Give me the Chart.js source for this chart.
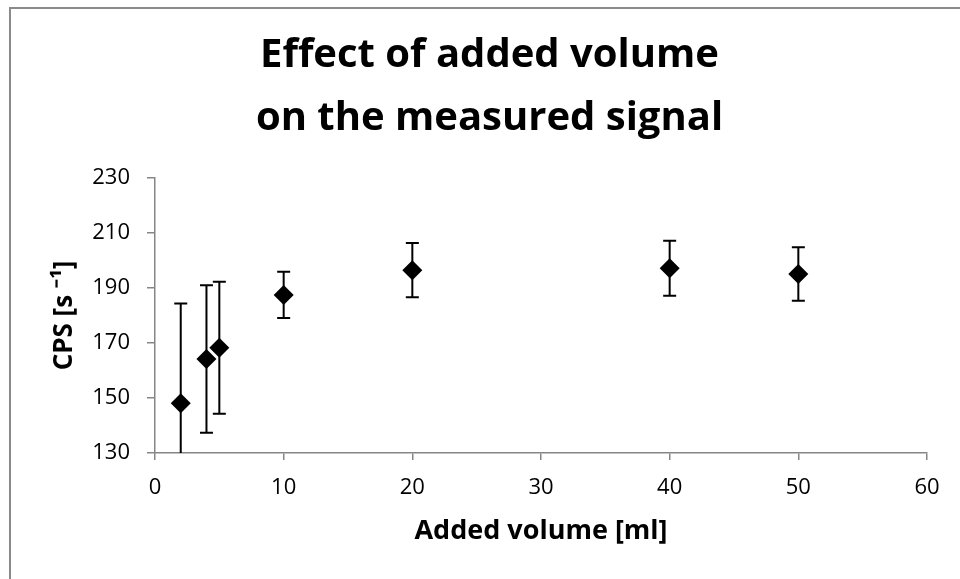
<!DOCTYPE html>
<html lang="en">
<head>
    <meta charset="UTF-8">
    <title>Effect of added volume on the measured signal</title>
    <script src="https://cdn.jsdelivr.net/npm/chart.js@4.4.0/dist/chart.umd.min.js"></script>
    <style>
        body { margin: 0; background: #fff; }
        canvas { display: block; }
    </style>
</head>
<body>
    <canvas id="chart" width="960" height="579"></canvas>

    <script>
        // data
        const volumes = [2, 4, 5, 10, 20, 40, 50];
        const cps = [148.1, 164.2, 168.3, 187.5, 196.5, 197.2, 195.1];
        const cpsError = [36.3, 26.8, 24.0, 8.4, 9.9, 10.0, 9.75];
        const xTicks = [0, 10, 20, 30, 40, 50, 60];
        const yTicks = [130, 150, 170, 190, 210, 230];

        const axisColor = '#868686';
        const fontFamily = '"Open Sans", sans-serif';

        // gray frame on the top and left edge
        const framePlugin = {
            id: 'frame',
            beforeDraw(chart) {
                const ctx = chart.ctx;
                ctx.save();
                ctx.fillStyle = '#8a8a8a';
                ctx.fillRect(9, 7, chart.width - 9, 2);
                ctx.fillRect(9, 7, 2, chart.height - 7);
                ctx.restore();
            }
        };

        // vertical error bars with caps, drawn through the scales
        const errorBarPlugin = {
            id: 'errorBars',
            afterDatasetsDraw(chart) {
                const ctx = chart.ctx;
                const x = chart.scales.x;
                const y = chart.scales.y;
                const area = chart.chartArea;
                ctx.save();
                ctx.beginPath();
                ctx.rect(area.left, area.top - 2, area.right - area.left, area.bottom - area.top + 2);
                ctx.clip();
                ctx.strokeStyle = '#000';
                ctx.lineWidth = 2;
                const cap = 6.5;
                volumes.forEach((v, i) => {
                    const px = x.getPixelForValue(v);
                    const top = y.getPixelForValue(cps[i] + cpsError[i]);
                    const bottom = y.getPixelForValue(cps[i] - cpsError[i]);
                    ctx.beginPath();
                    ctx.moveTo(px, top);
                    ctx.lineTo(px, bottom);
                    ctx.moveTo(px - cap, top);
                    ctx.lineTo(px + cap, top);
                    ctx.moveTo(px - cap, bottom);
                    ctx.lineTo(px + cap, bottom);
                    ctx.stroke();
                });
                ctx.restore();
            }
        };

        new Chart(document.getElementById('chart'), {
            type: 'scatter',
            data: {
                datasets: [{
                    label: 'CPS',
                    data: volumes.map((v, i) => ({ x: v, y: cps[i] })),
                    pointStyle: 'rectRot',
                    pointRadius: 10,
                    pointBackgroundColor: '#000',
                    pointBorderColor: '#000',
                    pointBorderWidth: 0
                }]
            },
            options: {
                responsive: false,
                animation: false,
                layout: { padding: { top: 0, left: 52, right: 33, bottom: 0 } },
                plugins: {
                    legend: { display: false },
                    tooltip: { enabled: false },
                    title: {
                        display: true,
                        text: ['Effect of added volume', 'on the measured signal'],
                        color: '#000',
                        font: { family: fontFamily, size: 40, weight: 'bold', lineHeight: 1.575 },
                        padding: { top: 24.5, bottom: 27.5 }
                    }
                },
                scales: {
                    x: {
                        type: 'linear',
                        min: 0,
                        max: 60,
                        afterBuildTicks: s => { s.ticks = xTicks.map(v => ({ value: v })); },
                        afterFit: s => { s.height = 126; },
                        grid: { drawOnChartArea: false, drawTicks: true, tickLength: 7, color: axisColor, lineWidth: 1.5 },
                        border: { display: true, color: axisColor, width: 1.5 },
                        ticks: { color: '#000', padding: 14.8, font: { family: fontFamily, size: 22 } },
                        title: {
                            display: true,
                            text: 'Added volume [ml]',
                            color: '#000',
                            font: { family: fontFamily, size: 27, weight: 'bold' },
                            padding: { top: 0, bottom: 31.8 }
                        }
                    },
                    y: {
                        type: 'linear',
                        min: 130,
                        max: 230,
                        afterBuildTicks: s => { s.ticks = yTicks.map(v => ({ value: v })); },
                        afterFit: s => { s.width = 103; },
                        grid: { drawOnChartArea: false, drawTicks: true, tickLength: 8, color: axisColor, lineWidth: 1.5 },
                        border: { display: true, color: axisColor, width: 1.5 },
                        ticks: { color: '#000', padding: 17, font: { family: fontFamily, size: 22 } },
                        title: {
                            display: true,
                            text: 'CPS [s \u207B\u00B9]',
                            color: '#000',
                            font: { family: fontFamily, size: 26, weight: 'bold', lineHeight: 1 },
                            padding: { top: 0, bottom: 0 }
                        }
                    }
                }
            },
            plugins: [framePlugin, errorBarPlugin]
        });
    </script>
</body>
</html>
